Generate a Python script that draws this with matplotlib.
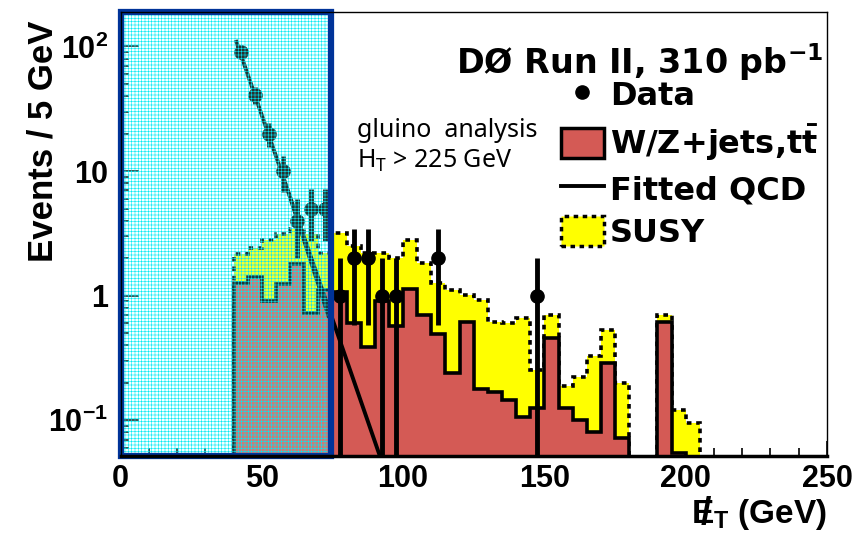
import numpy as np
import matplotlib
matplotlib.use("Agg")
import matplotlib.pyplot as plt
from matplotlib.patches import Rectangle, Patch
from matplotlib.lines import Line2D
from matplotlib.ticker import FixedLocator, LogLocator, NullFormatter, MultipleLocator

plt.rcParams['font.family'] = ['Liberation Sans', 'DejaVu Sans']
plt.rcParams['font.weight'] = 'bold'
plt.rcParams['axes.labelweight'] = 'bold'
plt.rcParams['mathtext.fontset'] = 'custom'
plt.rcParams['mathtext.rm'] = 'Liberation Sans:bold'
plt.rcParams['mathtext.bf'] = 'Liberation Sans:bold'
plt.rcParams['mathtext.it'] = 'Liberation Sans:bold'
plt.rcParams['mathtext.sf'] = 'DejaVu Sans:bold'
plt.rcParams['hatch.linewidth'] = 0.4

# bin edges (5 GeV bins from 40 to 210 GeV)
bin_lo = 40
bin_w = 5
# W/Z+jets, ttbar expectation per bin
wz = [1.27, 1.42, 0.90, 1.25, 1.78, 0.72, 1.12, 1.08, 0.60, 0.39,
      0.90, 0.57, 1.14, 0.70, 0.49, 0.24, 0.62, 0.18, 0.17, 0.146,
      0.106, 0.125, 0.455, 0.125, 0.10, 0.081, 0.29, 0.072, 0.0, 0.0,
      0.62, 0.055, 0.0, 0.0]
# SUSY signal stacked on top
susy = [0.88, 0.98, 1.90, 1.85, 1.62, 2.38, 1.08, 2.09, 1.90, 1.81,
        1.30, 1.43, 1.66, 1.12, 0.77, 0.87, 0.39, 0.74, 0.45, 0.454,
        0.554, 0.129, 0.245, 0.065, 0.124, 0.249, 0.24, 0.126, 0.0, 0.0,
        0.08, 0.065, 0.095, 0.0]

# data (bin centre, counts)
data_x = [42.5, 47.5, 52.5, 57.5, 62.5, 67.5, 72.5, 77.5, 82.5, 87.5, 92.5, 97.5, 112.5, 147.5]
data_n = [90, 41, 20, 10, 4, 5, 5, 1, 2, 2, 1, 1, 2, 1]

qcd_et = [41.0, 92.0]
qcd_val = [109.0, 0.05]
qcd_fit_et = [57.5, 73.5]
qcd_fit_val = [9.0, 0.68]

red = '#d45a55'
yel = '#ffff00'
navy = '#003399'

wz = np.array(wz)
stack = wz + np.array(susy)
edges = bin_lo + bin_w * np.arange(len(wz) + 1)

fig = plt.figure(figsize=(8.56, 5.33), dpi=100)
ax = fig.add_axes([0.1408, 0.145, 0.9661 - 0.1408, 0.978 - 0.145])
ax.set_yscale('log')
ax.set_xlim(0, 250)
ax.set_ylim(0.052, 190)

floor = 1e-4
dots = (0, (1.3, 1.3))
ax.stairs(np.where(stack > 0, stack, floor), edges, baseline=floor, fill=True,
          color=yel, zorder=2)
ax.stairs(np.where(stack > 0, stack, floor), edges, baseline=floor, fill=False,
          color='black', lw=2.6, linestyle=dots, zorder=3)
ax.stairs(np.where(wz > 0, wz, floor), edges, baseline=floor, fill=True,
          color=red, zorder=4)
ax.stairs(np.where(wz > 0, wz, floor), edges, baseline=floor, fill=False,
          color='black', lw=2.6, zorder=5)

# fitted QCD
ax.plot(qcd_et, qcd_val, color='black', lw=2.8, zorder=6)
ax.plot(qcd_fit_et, qcd_fit_val, color='black', lw=2.2, zorder=6)

# data with sqrt(N) errors
dn = np.array(data_n, dtype=float)
err = np.sqrt(dn)
lo = np.minimum(err, dn - 1e-4)
ax.errorbar(data_x, dn, yerr=[lo, err], fmt='o', color='black', ms=9.5,
            elinewidth=3.5, capsize=0, zorder=7)

# blue selection box
ylo, yhi = ax.get_ylim()
ax.add_patch(Rectangle((0, ylo), 74.5, yhi - ylo, facecolor=(0.75, 1, 1, 0.2),
                       edgecolor='#00e8f4', hatch='+++++', lw=0, zorder=8))
ax.add_patch(Rectangle((0, ylo), 74.5, yhi - ylo, facecolor='none',
                       edgecolor=navy, lw=4.5, zorder=9, clip_on=False))

# axes styling
for s in ax.spines.values():
    s.set_linewidth(1.0)
    s.set_zorder(10)
ax.spines['bottom'].set_linewidth(2.5)
ax.xaxis.set_major_locator(MultipleLocator(50))
ax.xaxis.set_minor_locator(MultipleLocator(10))
ax.yaxis.set_major_locator(FixedLocator([0.1, 1, 10, 100]))
ax.yaxis.set_minor_locator(LogLocator(base=10, subs=np.arange(2, 10)))
ax.yaxis.set_minor_formatter(NullFormatter())
ax.set_yticklabels([r'$10^{-1}$', '1', '10', r'$10^{2}$'])
ax.tick_params(axis='both', which='both', direction='in', labelsize=22, width=1.2)
ax.tick_params(axis='y', which='major', length=13, pad=9)
ax.tick_params(axis='y', which='minor', length=6)
ax.tick_params(axis='x', which='major', length=11, pad=6)
ax.tick_params(axis='x', which='minor', length=6)

ax.set_ylabel('Events / 5 GeV', fontsize=25, loc='top')
ax.yaxis.set_label_coords(-0.087, 0.981)
xl = ax.set_xlabel(r'$E_{T}$ (GeV)', fontsize=24, loc='right', labelpad=2)

ax.text(0.995, 0.885, r'DØ Run II, 310 pb$^{\mathsf{-1}}$', transform=ax.transAxes,
        ha='right', va='center', fontsize=24, family=['DejaVu Sans'])
ax.text(0.335, 0.733, 'gluino  analysis', transform=ax.transAxes, ha='left', va='center',
        fontsize=18, fontweight='normal', family=['Noto Sans'])
ax.text(0.335, 0.663, r'H$_\mathregular{T}$ > 225 GeV', transform=ax.transAxes, ha='left',
        va='center', fontsize=18, fontweight='normal', family=['Noto Sans'])

handles = [
    Line2D([], [], marker='o', color='black', ls='none', ms=9.5),
    Patch(facecolor=red, edgecolor='black', lw=2.5),
    Line2D([], [], color='black', lw=2.8),
    Patch(facecolor=yel, edgecolor='black', lw=2.5, linestyle=dots),
]
labels = ['Data', r'W/Z+jets,$\mathsf{t\bar{t}}$', 'Fitted QCD', 'SUSY']
leg = ax.legend(handles, labels, loc='upper left', bbox_to_anchor=(0.623, 0.848),
                frameon=False, handlelength=1.35, handleheight=1.05,
                handletextpad=0.2, labelspacing=0.32, borderaxespad=0, borderpad=0,
                prop={'family': 'DejaVu Sans', 'weight': 'bold', 'size': 23})
leg.set_zorder(11)

# slash through the E of the x label (missing ET)
fig.canvas.draw()
bb = xl.get_window_extent()
e_w = 0.667 * 24 * 100 / 72
fig.text((bb.x0 + e_w * 0.68) / fig.bbox.width, (bb.y0 + bb.height * 0.5) / fig.bbox.height,
         '/', fontsize=27, ha='center', va='center')

fig.savefig('out.png', dpi=100)
